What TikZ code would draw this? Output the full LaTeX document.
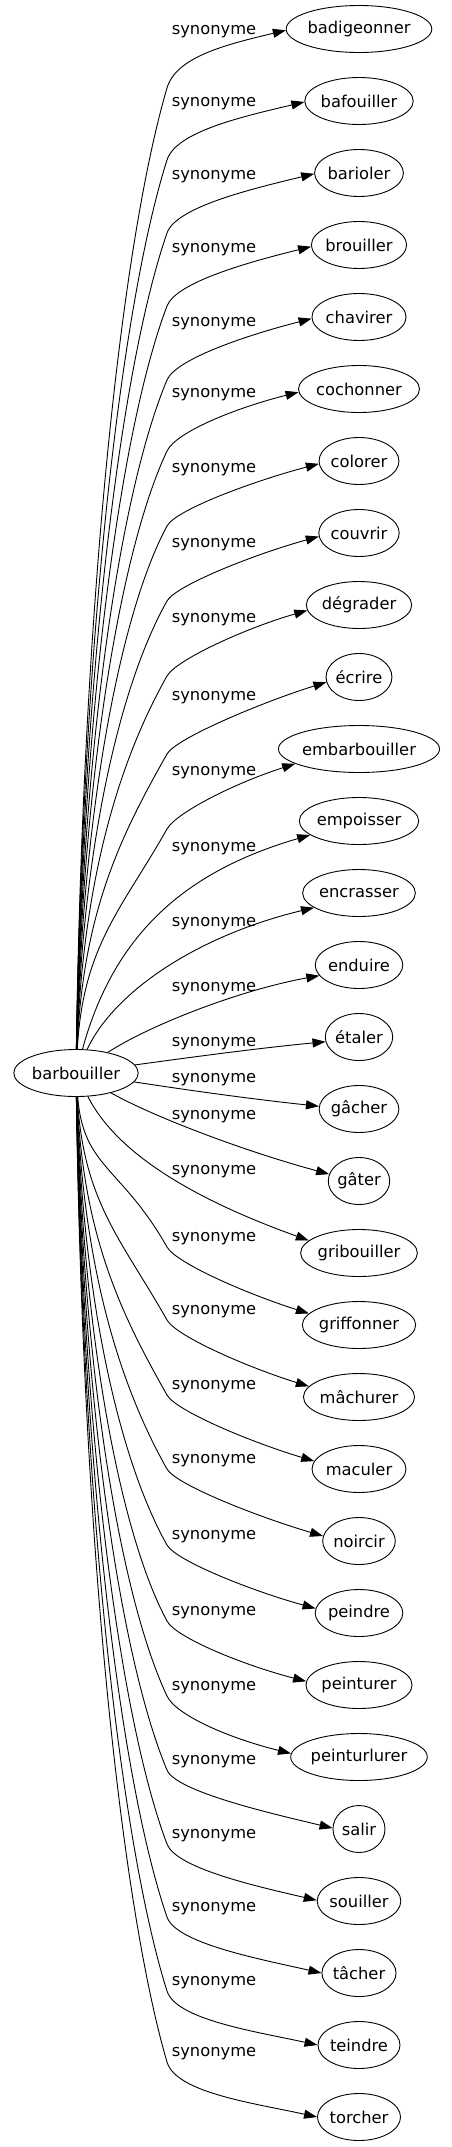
\documentclass[tikz,border=0pt]{standalone}
\usepackage{fontspec}
\setmainfont{DejaVu Sans}
\usetikzlibrary{arrows.meta,shapes.geometric,calc}
\newlength\wlen
\tikzset{
  word/.style={draw, ellipse, line width=0.9pt, inner sep=0pt, minimum height=47pt, font=\fontsize{16.3}{19.5}\selectfont},
  lab/.style={anchor=base, inner sep=0pt, font=\fontsize{16.3}{19.5}\selectfont},
  edge/.style={-{Triangle[length=13pt,width=9pt]}, line width=0.9pt}
}
\begin{document}
\begin{tikzpicture}[x=1pt,y=-1pt]
\fontsize{16.3}{19.5}\selectfont
\useasboundingbox (0,0) rectangle (452,2147);
\settowidth{\wlen}{barbouiller}
\pgfmathsetmacro\mw{\wlen+52}
\node[word, minimum width=\mw pt] (bar) at (76,1073) {barbouiller};
\foreach \i/\w/\L in {
0/badigeonner/30, 1/bafouiller/102, 2/barioler/175, 3/brouiller/248,
4/chavirer/322, 5/cochonner/393, 6/colorer/468, 7/couvrir/543,
8/dégrader/618, 9/écrire/696, 10/embarbouiller/771, 11/empoisser/847,
12/encrasser/922, 13/enduire/987, 14/étaler/1042, 15/gâcher/1078,
16/gâter/1115, 17/gribouiller/1170, 18/griffonner/1237, 19/mâchurer/1310,
20/maculer/1385, 21/noircir/1459, 22/peindre/1535, 23/peinturer/1611,
24/peinturlurer/1686, 25/salir/1760, 26/souiller/1834, 27/tâcher/1907,
28/teindre/1981, 29/torcher/2052}{
  \settowidth{\wlen}{\w}
  \pgfmathsetmacro\mw{\wlen+52}
  \pgfmathsetmacro\cy{29+72*\i}
  \node[word, minimum width=\mw pt] (n\i) at (359,\cy) {\w};
  \node[lab] (l\i) at (214,{\L+4.5}) {synonyme};
}
% upper edges
\foreach \i/\L/\ang in {0/30/181, 1/102/181, 2/175/181, 3/248/182, 4/322/182,
  5/393/183, 6/468/184, 7/543/185, 8/618/186, 9/696/189, 10/771/193}{
  \pgfmathsetmacro\ky{\L+58}
  \pgfmathsetmacro\d{1049-\ky}
  \pgfmathsetmacro\h{max(0.16*\d,80)}
  \pgfmathsetmacro\cy{29+72*\i}
  \draw[edge] (bar) .. controls (83,{1049-0.47*\d}) and (121.8,{\ky+\h}) .. (167,\ky)
    .. controls ({167+0.2*45.2},{\ky-0.2*\h}) and ($(n\i.\ang)+(-62,{0.25*(\ky-\cy)})$) .. (n\i.\ang);
}
% lower edges
\foreach \i/\L/\ang in {18/1237/167, 19/1310/168, 20/1385/170,
  21/1459/172, 22/1535/174, 23/1611/176, 24/1686/177, 25/1760/178, 26/1834/179,
  27/1907/180, 28/1981/180, 29/2052/180}{
  \pgfmathsetmacro\ky{\L+10}
  \pgfmathsetmacro\d{\ky-1097}
  \pgfmathsetmacro\h{max(0.16*\d,80)}
  \pgfmathsetmacro\cy{29+72*\i}
  \draw[edge] (bar) .. controls (83,{1097+0.47*\d}) and (121.8,{\ky-\h}) .. (167,\ky)
    .. controls ({167+0.2*45.2},{\ky+0.2*\h}) and ($(n\i.\ang)+(-62,{-0.25*(\cy-\ky)})$) .. (n\i.\ang);
}
% middle edges
\draw[edge] (bar) .. controls (115,930) and (190,870) .. (n11.196);
\draw[edge] (bar) .. controls (115,990) and (200,935) .. (n12.198);
\draw[edge] (bar) .. controls (150,1025) and (240,990) .. (n13.195);
\draw[edge] (bar) .. controls (200,1056) and (260,1048) .. (n14.188);
\draw[edge] (bar) .. controls (200,1092) and (260,1100) .. (n15.176);
\draw[edge] (bar) .. controls (150,1115) and (240,1150) .. (n16.167);
\draw[edge] (bar) .. controls (120,1160) and (210,1205) .. (n17.166);
\end{tikzpicture}
\end{document}
